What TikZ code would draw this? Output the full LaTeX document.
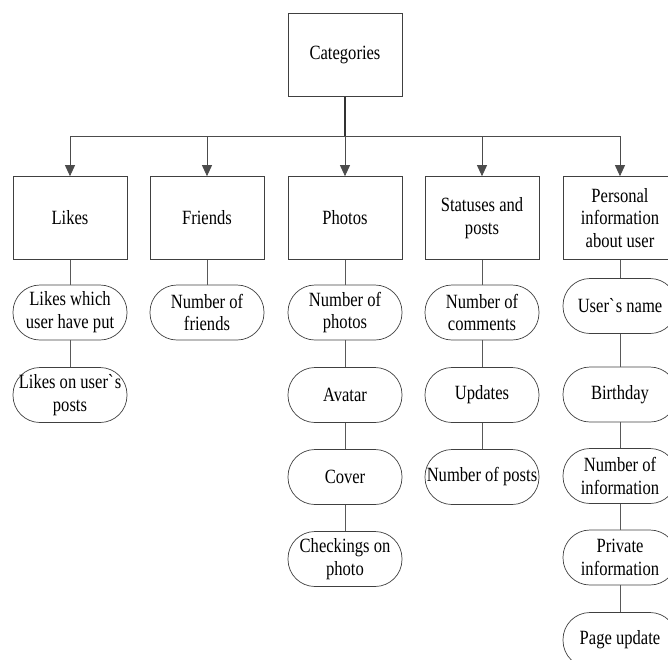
\documentclass[tikz,border=0pt]{standalone}
\usepackage{fontspec}
\setmainfont{Liberation Serif}[FakeStretch=0.82]
\usetikzlibrary{arrows.meta}

\begin{document}
\begin{tikzpicture}[
	catbox/.style={draw=black!75, fill=none, minimum width=2.28cm, minimum height=1.66cm, align=center, inner sep=1pt, font=\fontsize{11.5}{13}\selectfont},
	itembox/.style={draw=black!75, fill=none, rounded corners=0.54cm, minimum width=2.28cm, minimum height=1.1cm, align=center, inner sep=1pt, font=\fontsize{11.5}{13}\selectfont},
	arr/.style={draw=black!70, line width=0.5pt, -{Triangle[length=0.22cm,width=0.2cm]}},
	link/.style={draw=black!65, line width=0.5pt}
]
	\useasboundingbox (0,0) rectangle (13.36,-13.18);
	\begin{scope}
	\clip (0,0) rectangle (13.36,-13.18);
	\node[catbox] (cat) at (6.9,-1.1) {Categories};
	\node[catbox] (likes) at (1.4,-4.36) {Likes};
	\node[catbox] (friends) at (4.14,-4.36) {Friends};
	\node[catbox] (photos) at (6.9,-4.36) {Photos};
	\node[catbox] (posts) at (9.64,-4.36) {Statuses and\\posts};
	\node[catbox] (info) at (12.4,-4.36) {Personal\\information\\about user};
	\node[itembox] (likes1) at (1.4,-6.25) {Likes which\\user have put};
	\node[itembox] (likes2) at (1.4,-7.9) {Likes on user\textasciigrave s\\posts};
	\node[itembox] (friends1) at (4.14,-6.25) {Number of\\friends};
	\node[itembox] (photos1) at (6.9,-6.25) {Number of\\photos};
	\node[itembox] (photos2) at (6.9,-7.9) {Avatar};
	\node[itembox] (photos3) at (6.9,-9.54) {Cover};
	\node[itembox] (photos4) at (6.9,-11.18) {Checkings on\\photo};
	\node[itembox] (posts1) at (9.64,-6.25) {Number of\\comments};
	\node[itembox] (posts2) at (9.64,-7.9) {Updates};
	\node[itembox] (posts3) at (9.64,-9.54) {Number of posts};
	\node[itembox] (info1) at (12.4,-6.12) {User\textasciigrave s name};
	\node[itembox] (info2) at (12.4,-7.89) {Birthday};
	\node[itembox] (info3) at (12.4,-9.52) {Number of\\information};
	\node[itembox] (info4) at (12.4,-11.15) {Private\\information};
	\node[itembox] (info5) at (12.4,-12.8) {Page update};
	\coordinate (bar) at (6.9,-2.72);
	\draw[link, line width=1pt, draw=black!80] (cat) -- (bar);
	\foreach \n in {likes,friends,photos,posts,info}
		\draw[arr] (bar) -| (\n);
	\draw[link] (likes) -- (likes1) -- (likes2);
	\draw[link] (friends) -- (friends1);
	\draw[link] (photos) -- (photos1) -- (photos2) -- (photos3) -- (photos4);
	\draw[link] (posts) -- (posts1) -- (posts2) -- (posts3);
	\draw[link] (info) -- (info1) -- (info2) -- (info3) -- (info4) -- (info5);
	\end{scope}
\end{tikzpicture}
\end{document}
